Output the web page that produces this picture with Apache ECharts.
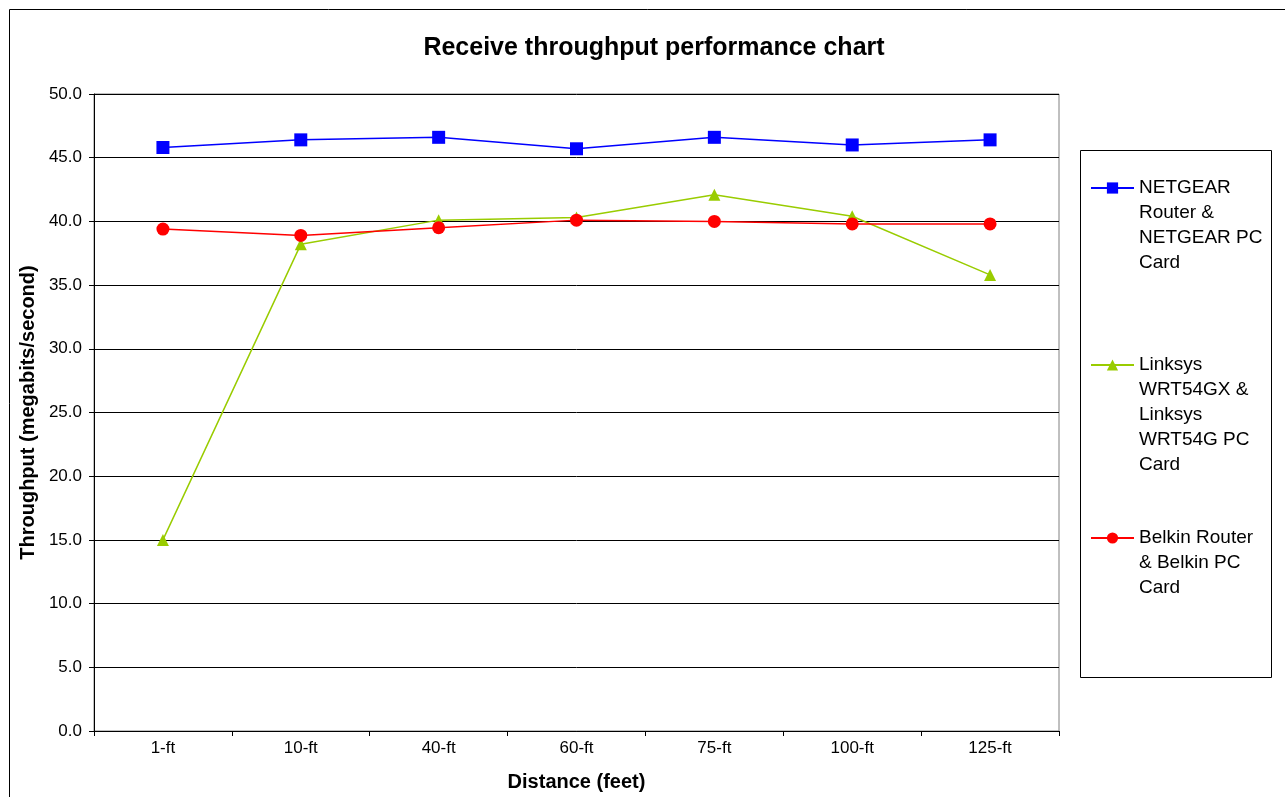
<!DOCTYPE html>
<html><head><meta charset="utf-8">
<script src="https://cdn.jsdelivr.net/npm/echarts@6/dist/echarts.min.js"></script>
<style>html,body{margin:0;padding:0;background:#fff}#c{width:1285px;height:797px}</style>
</head><body><div id="c"></div>
<script>
const categories = ['1-ft','10-ft','40-ft','60-ft','75-ft','100-ft','125-ft'];
const netgear = [45.8, 46.4, 46.6, 45.7, 46.6, 46.0, 46.4];
const linksys = [15.0, 38.2, 40.1, 40.3, 42.1, 40.4, 35.8];
const belkin  = [39.4, 38.9, 39.5, 40.1, 40.0, 39.8, 39.8];
const seriesNames = ['NETGEAR\nRouter &\nNETGEAR PC\nCard', 'Linksys\nWRT54GX &\nLinksys\nWRT54G PC\nCard', 'Belkin Router\n& Belkin PC\nCard'];
const yTicks = [0, 5, 10, 15, 20, 25, 30, 35, 40, 45, 50];

const chart = echarts.init(document.getElementById('c'), null, {renderer:'canvas'});
const font = 'Liberation Sans, Arial, sans-serif';
const LH = 25;
function legendFor(i, firstLineY) {
  const n = seriesNames[i].split('\n').length;
  return {
    show: true, left: 1085, top: firstLineY - 5 - (n - 1) * LH - LH / 2, orient: 'vertical',
    data: [seriesNames[i]], itemWidth: 43, itemHeight: 14, itemGap: 0,
    selectedMode: false,
    formatter: name => '\n'.repeat(n - 1) + name,
    textStyle: {fontFamily: font, fontSize: 19, color: '#000', lineHeight: LH}
  };
}
chart.setOption({
  animation: false,
  backgroundColor: '#fff',
  title: {text: 'Receive throughput performance chart', left: 649, top: 31, textAlign: 'center',
    textStyle: {fontFamily: font, fontSize: 25, fontWeight: 'bold', color: '#000'}},
  graphic: [
    {type: 'rect', shape: {x: 9.5, y: 9.5, width: 1300, height: 800}, style: {fill: 'none', stroke: '#000', lineWidth: 1}, silent: true},
    {type: 'rect', shape: {x: 1080.5, y: 150.5, width: 191, height: 527}, style: {fill: 'none', stroke: '#000', lineWidth: 1}, silent: true}
  ],
  legend: [legendFor(0, 188), legendFor(1, 365), legendFor(2, 538)],
  grid: {left: 94, top: 94, right: 226, bottom: 65, show: true, borderColor: '#808080', borderWidth: 1},
  xAxis: {
    type: 'category', data: categories, boundaryGap: true,
    name: 'Distance (feet)', nameLocation: 'middle', nameGap: 41,
    nameTextStyle: {fontFamily: font, fontSize: 20, fontWeight: 'bold', color: '#000'},
    axisLine: {lineStyle: {color: '#000', width: 1}},
    axisTick: {show: true, length: 5, lineStyle: {color: '#000'}},
    axisLabel: {fontFamily: font, fontSize: 17, color: '#000', margin: 9},
    splitLine: {show: false}
  },
  yAxis: {
    type: 'value', min: 0, max: 50, interval: 5,
    name: 'Throughput (megabits/second)', nameLocation: 'middle', nameGap: 56,
    nameTextStyle: {fontFamily: font, fontSize: 20, fontWeight: 'bold', color: '#000'},
    axisLine: {show: true, lineStyle: {color: '#000', width: 1}},
    axisTick: {show: true, length: 5, inside: false, lineStyle: {color: '#000'}},
    axisLabel: {fontFamily: font, fontSize: 17, color: '#000', margin: 12, formatter: v => v.toFixed(1)},
    splitLine: {show: true, lineStyle: {color: '#000', width: 1}}
  },
  series: [
    {name: seriesNames[0], type: 'line', data: netgear, symbol: 'rect', symbolSize: 13,
     lineStyle: {color: '#0000FF', width: 1.5}, itemStyle: {color: '#0000FF'}},
    {name: seriesNames[1], type: 'line', data: linksys, symbol: 'triangle', symbolSize: 12,
     lineStyle: {color: '#99CC00', width: 1.5}, itemStyle: {color: '#99CC00'}},
    {name: seriesNames[2], type: 'line', data: belkin, symbol: 'circle', symbolSize: 13,
     lineStyle: {color: '#FF0000', width: 1.5}, itemStyle: {color: '#FF0000'}}
  ]
});
</script></body></html>
